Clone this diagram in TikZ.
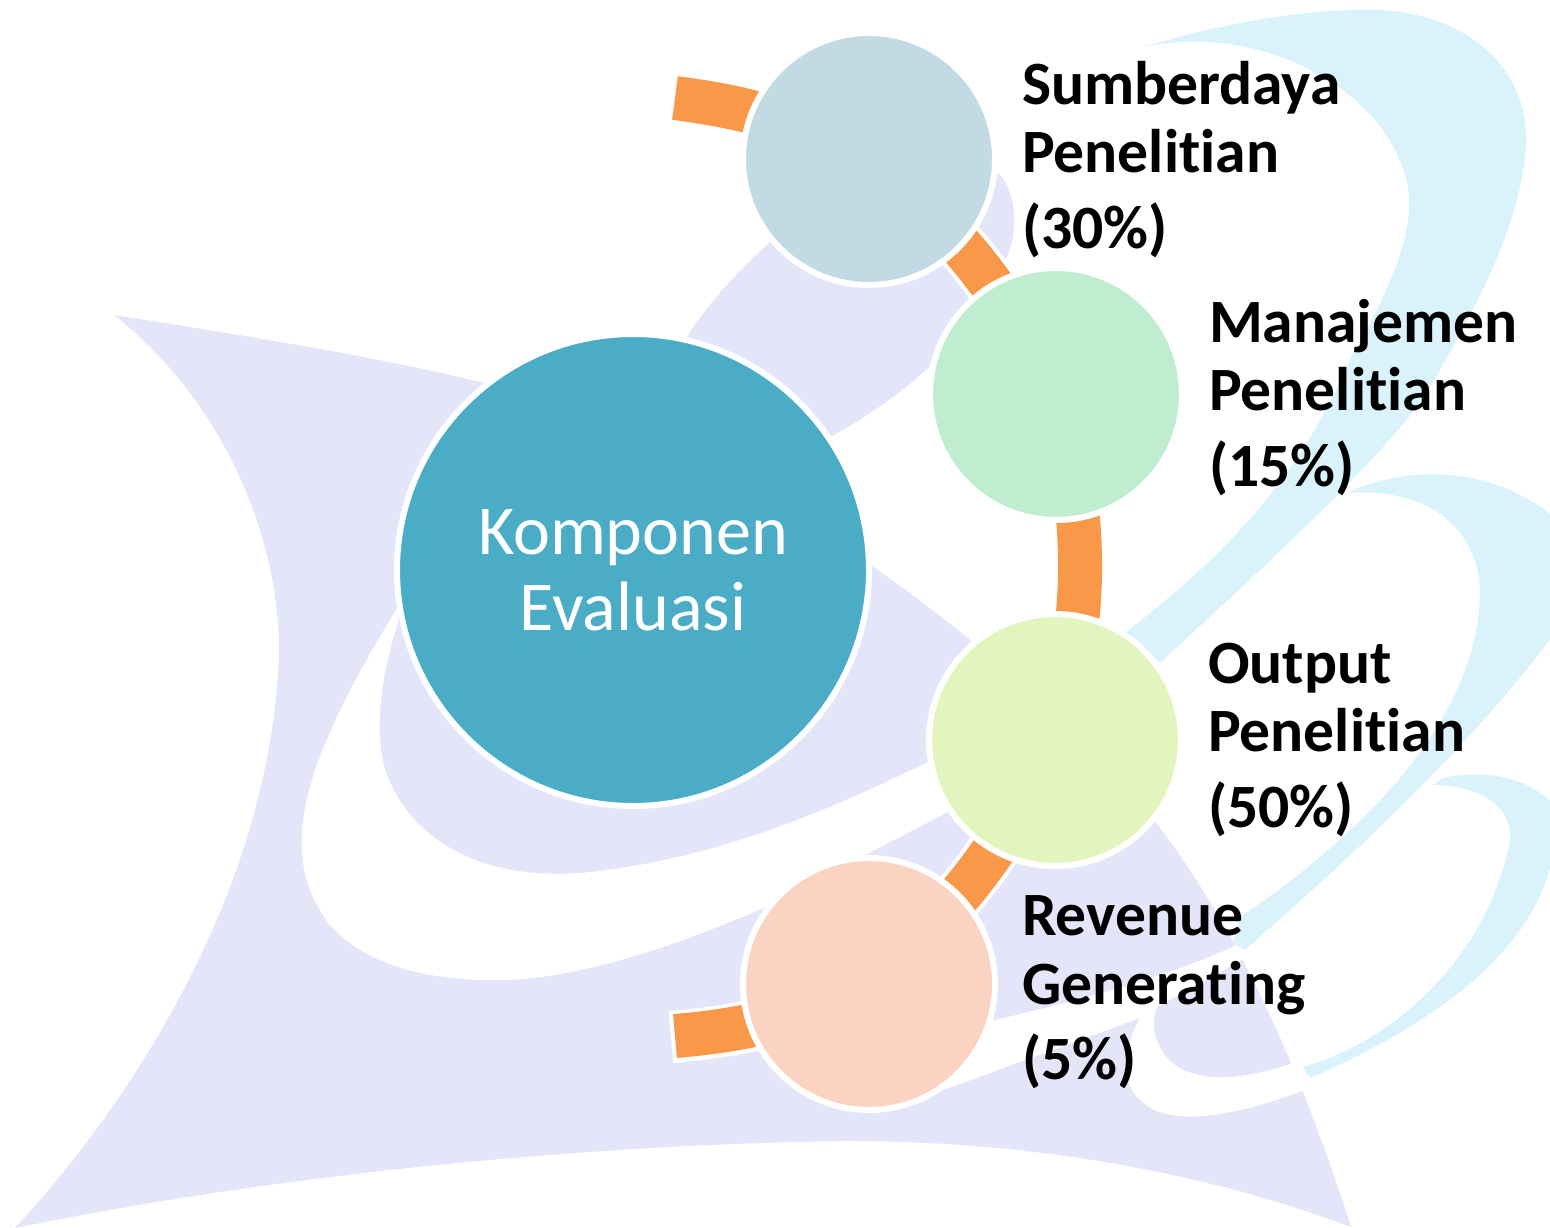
\documentclass[tikz,border=0pt]{standalone}
\usepackage{fontspec}
\setmainfont{Carlito}[Ligatures=CommonOff]
\definecolor{lav}{HTML}{E5E5FA}
\definecolor{sky}{HTML}{DAF2FC}
\definecolor{ringc}{HTML}{F99848}
\definecolor{hubc}{HTML}{4BACC6}
\definecolor{ca}{HTML}{C1DAE3}
\definecolor{cb}{HTML}{C0EDD0}
\definecolor{cc}{HTML}{E3F5BF}
\definecolor{cd}{HTML}{FAD3C2}
\tikzset{
  lavshape/.style={fill=lav,draw=none},
  skyshape/.style={fill=sky,draw=none},
  cutshape/.style={fill=white,draw=none},
  ringback/.style={draw=white,line width=52pt},
  ringfill/.style={draw=ringc,line width=44pt},
  hub/.style={circle,draw=white,line width=6pt,fill=hubc,minimum size=472pt,inner sep=0pt,outer sep=0pt,text=white,align=center,font=\fontsize{70}{76}\selectfont},
  petal/.style={circle,draw=white,line width=6pt,minimum size=252pt,inner sep=0pt,outer sep=0pt},
  lab/.style={anchor=north west,inner sep=0pt,outer sep=0pt,align=left,text=black,font=\fontsize{61.6}{68.5}\selectfont\bfseries}
}
\begin{document}
\begin{tikzpicture}[x=1pt,y=-1pt]
\useasboundingbox (0,0) rectangle (1550,1227);
\fill[white] (0,0) rectangle (1550,1227);
% lavender silhouette
\path[lavshape] (114,315) .. controls (240,335) and (370,355) .. (484,383) -- (870,565)
  .. controls (980,640) and (1090,740) .. (1157,824) .. controls (1215,900) and (1285,1020) .. (1351,1227)
  .. controls (1200,1170) and (1020,1140) .. (840,1141) .. controls (600,1145) and (300,1170) .. (15,1228)
  .. controls (120,1115) and (270,900) .. (279,655) .. controls (280,520) and (210,390) .. (114,315) -- cycle;
% upper lavender band
\path[lavshape] (687,337) .. controls (710,300) and (740,270) .. (770,242) -- (998,173)
  .. controls (1015,190) and (1020,225) .. (1007,257) -- (950,345) .. controls (925,375) and (880,410) .. (830,437) -- (700,450) -- cycle;
% white swoosh A
\path[cutshape] (398,607) .. controls (365,660) and (335,715) .. (316,767) .. controls (295,830) and (295,880) .. (330,925)
  .. controls (370,970) and (440,982) .. (510,980) .. controls (600,975) and (700,935) .. (761,909)
  -- (948,812) -- (1160,663) -- (1126,632) -- (932,760)
  .. controls (840,805) and (720,860) .. (580,873) .. controls (480,880) and (410,840) .. (385,770) .. controls (372,720) and (385,665) .. (398,622) -- cycle;
% white swoosh B
\path[cutshape] (930,1095) -- (1140,1018) .. controls (1122,1050) and (1120,1080) .. (1140,1100)
  .. controls (1170,1130) and (1240,1115) .. (1310,1088) -- (1296,1062)
  .. controls (1250,1078) and (1205,1085) .. (1175,1065) .. controls (1155,1050) and (1150,1025) .. (1157,1007)
  -- (1247,957) -- (1237,945) .. controls (1160,980) and (1080,1000) .. (995,1020) -- (930,1040) -- cycle;
% sky ribbons
\path[skyshape] (1145,47) .. controls (1230,20) and (1320,8) .. (1380,10) .. controls (1470,15) and (1530,70) .. (1526,147)
  .. controls (1520,230) and (1470,320) .. (1421,402) .. controls (1360,480) and (1260,570) .. (1160,663)
  -- (1126,632) .. controls (1220,560) and (1300,480) .. (1351,357) .. controls (1385,300) and (1412,240) .. (1409,196)
  .. controls (1400,100) and (1270,20) .. (1145,47) -- cycle;
\path[skyshape] (1351,491) .. controls (1400,470) and (1480,460) .. (1552,515) -- (1552,637)
  .. controls (1470,745) and (1370,840) .. (1245,950) -- (1233,943) -- (1240,917)
  .. controls (1340,850) and (1480,730) .. (1480,590) .. controls (1478,530) and (1430,488) .. (1351,493) -- cycle;
\path[skyshape] (1443,778) .. controls (1480,770) and (1525,775) .. (1552,803) -- (1552,860)
  .. controls (1530,960) and (1420,1030) .. (1310,1078) -- (1303,1067)
  .. controls (1400,1040) and (1490,950) .. (1510,840) .. controls (1512,800) and (1470,785) .. (1433,785) -- cycle;
% named coordinates
\coordinate (ua) at (869,159);
\coordinate (ub) at (1056,394);
\coordinate (uc) at (1055,740);
\coordinate (ud) at (869,984);
\coordinate (ea) at (675,98);
\coordinate (eb) at (675,1036);
\coordinate (eaw) at (671,97);
\coordinate (ebw) at (671,1037);
% ring segments
\draw[ringback] (eaw) to[bend left=10] (ua);
\draw[ringfill] (ea) to[bend left=10] (ua);
\draw[ringback] (ua) to[bend left=12] (ub);
\draw[ringfill] (ua) to[bend left=12] (ub);
\draw[ringback] (ub) to[bend left=14] (uc);
\draw[ringfill] (ub) to[bend left=14] (uc);
\draw[ringback] (uc) to[bend left=12] (ud);
\draw[ringfill] (uc) to[bend left=12] (ud);
\draw[ringback] (ebw) to[bend right=10] (ud);
\draw[ringfill] (eb) to[bend right=10] (ud);
% circles
\node[hub] (main) at (633,570) {Komponen\\Evaluasi};
\node[petal,fill=ca] (na) at (ua) {};
\node[petal,fill=cb] (nb) at (ub) {};
\node[petal,fill=cc] (nc) at (uc) {};
\node[petal,fill=cd] (nd) at (ud) {};
% labels
\node[lab] (la) at (1022,61) {Sumberdaya\\Penelitian\\[7pt](30\%)};
\node[lab] (lb) at (1209,299) {Manajemen\\Penelitian\\[7pt](15\%)};
\node[lab] (lc) at (1208,643) {Output\\Penelitian\\[7pt](50\%)};
\node[lab] (ld) at (1022,896) {Revenue\\Generating\\[7pt](5\%)};
\end{tikzpicture}
\end{document}
